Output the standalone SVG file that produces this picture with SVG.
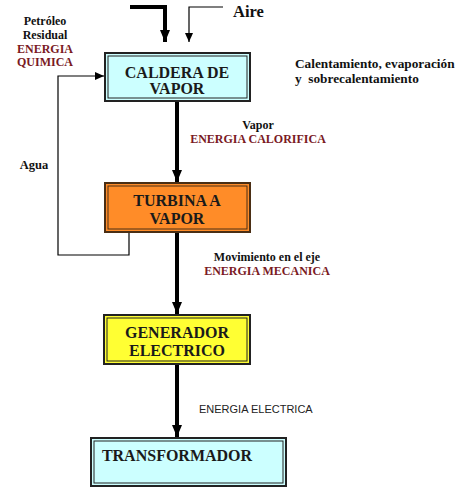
<svg xmlns="http://www.w3.org/2000/svg" width="463" height="501" viewBox="0 0 463 501">
<style>
.t{font-family:"Liberation Serif","Times New Roman",serif;font-weight:bold;}
.box{font-size:16px;fill:#1a1a1a;text-anchor:middle;}
.lbl{font-size:12px;fill:#111;}
.red{fill:#7a1a1f;}
.thick{stroke:#000;stroke-width:4;fill:none;}
.thin{stroke:#000;stroke-width:1.2;fill:none;}
</style>
<defs>
<marker id="hb" markerUnits="userSpaceOnUse" viewBox="0 0 12 10" refX="12" refY="5" markerWidth="12" markerHeight="10" orient="auto"><path d="M0,0 L12,5 L0,10 Z" fill="#000"/></marker>
<marker id="hs" markerUnits="userSpaceOnUse" viewBox="0 0 9 8" refX="9" refY="4" markerWidth="9" markerHeight="8" orient="auto"><path d="M0,0 L9,4 L0,8 Z" fill="#000"/></marker>
</defs>
<rect width="463" height="501" fill="#fff"/>
<g id="connectors">
<path class="thick" d="M130,7 H165 V42" marker-end="url(#hb)"/>
<path class="thin" d="M223,7 H189 V42" marker-end="url(#hs)"/>
<path class="thick" d="M177,102 V182" marker-end="url(#hb)"/>
<path class="thick" d="M177,233 V314" marker-end="url(#hb)"/>
<path class="thick" d="M177,365 V437" marker-end="url(#hb)"/>
<path class="thin" d="M129,233 V255 H58 V76 H104" marker-end="url(#hs)"/>
</g>
<g id="caldera">
<rect x="105" y="53" width="145" height="48" fill="#ccffff" stroke="#222" stroke-width="2"/>
<rect x="108" y="56" width="139" height="42" fill="none" stroke="#222" stroke-width="1"/>
<text class="t box" x="177" y="78">CALDERA DE</text>
<text class="t box" x="177" y="94">VAPOR</text>
</g>
<g id="turbina">
<rect x="105" y="183" width="145" height="49" fill="#ff8c28" stroke="#4a2e14" stroke-width="2"/>
<rect x="108" y="186" width="139" height="43" fill="none" stroke="#4a2e14" stroke-width="1"/>
<text class="t box" x="177" y="206">TURBINA A</text>
<text class="t box" x="177" y="224">VAPOR</text>
</g>
<g id="generador">
<rect x="104" y="315" width="146" height="49" fill="#ffff33" stroke="#222" stroke-width="2"/>
<rect x="107" y="318" width="140" height="43" fill="none" stroke="#222" stroke-width="1"/>
<text class="t box" x="177" y="338">GENERADOR</text>
<text class="t box" x="177" y="356">ELECTRICO</text>
</g>
<g id="transformador">
<rect x="91" y="438" width="195" height="48" fill="#ccffff" stroke="#222" stroke-width="2"/>
<rect x="94" y="441" width="189" height="42" fill="none" stroke="#222" stroke-width="1"/>
<text class="t box" x="177" y="461">TRANSFORMADOR</text>
</g>
<g id="labels">
<text class="t" x="233" y="17" font-size="16.5" fill="#111">Aire</text>
<text class="t lbl" x="45" y="25" text-anchor="middle">Petróleo</text>
<text class="t lbl" x="45" y="39" text-anchor="middle">Residual</text>
<text class="t lbl red" x="45" y="53" text-anchor="middle">ENERGIA</text>
<text class="t lbl red" x="45" y="66" text-anchor="middle">QUIMICA</text>
<text class="t" x="295" y="68" font-size="13.3" fill="#111">Calentamiento, evaporación</text>
<text class="t" x="295" y="83" font-size="13.3" fill="#111" xml:space="preserve">y  sobrecalentamiento</text>
<text class="t" x="34" y="169" font-size="12.5" fill="#111" text-anchor="middle">Agua</text>
<text class="t lbl" x="258" y="129" text-anchor="middle">Vapor</text>
<text class="t lbl red" x="258" y="143" text-anchor="middle">ENERGIA CALORIFICA</text>
<text class="t lbl" x="267" y="261" text-anchor="middle">Movimiento en el eje</text>
<text class="t lbl red" x="267" y="275" text-anchor="middle">ENERGIA MECANICA</text>
<text x="199" y="413" font-family="Liberation Sans, Arial, sans-serif" font-size="11" fill="#222">ENERGIA ELECTRICA</text>
</g>
</svg>
